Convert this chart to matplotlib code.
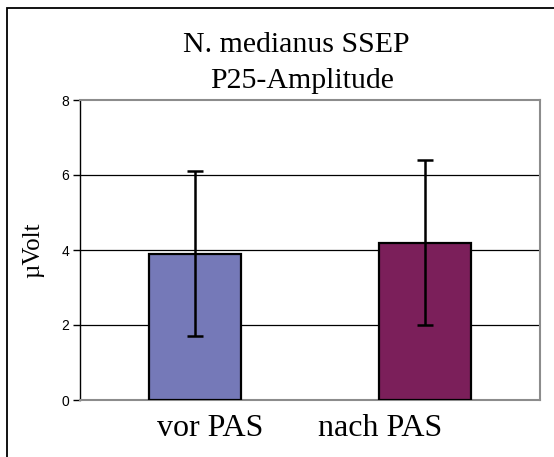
import matplotlib
matplotlib.use("Agg")
import matplotlib.pyplot as plt
from matplotlib.patches import Rectangle
from matplotlib.transforms import ScaledTranslation

categories = ["vor PAS", "nach PAS"]
means = [3.9, 4.2]
errors = [2.2, 2.2]
colors = ["#7579B8", "#7B1F5A"]
yticks = [0, 2, 4, 6, 8]
title_lines = ["N. medianus SSEP", "P25-Amplitude"]
ylabel = "µVolt"

W, H = 554, 457
fig = plt.figure(figsize=(W / 100, H / 100), dpi=100)
fig.patch.set_facecolor("white")

# outer frame (only left and top edges visible)
fig.patches.append(Rectangle((7 / W, -0.05), 1.2, (H - 8) / H + 0.05,
                             transform=fig.transFigure, fill=False,
                             edgecolor="black", linewidth=1.3))

ax = fig.add_axes([80 / W, (H - 400) / H, (540 - 80) / W, 300 / H])
x = list(range(len(categories)))
ax.bar(x, means, width=0.4, color=colors, edgecolor="black", linewidth=1.6, zorder=3)
ax.errorbar(x, means, yerr=errors, fmt="none", ecolor="black", elinewidth=1.8,
            capsize=5.5, capthick=1.8, zorder=4)
ax.set_xlim(-0.5, 1.5)
ax.set_ylim(0, 8)
ax.set_yticks(yticks)
ax.set_yticklabels([str(v) for v in yticks], family="Liberation Sans", fontsize=10)
for v in yticks[1:-1]:
    ax.axhline(v, color="black", linewidth=0.9, zorder=1)
ax.set_xticks(x)
ax.set_xticklabels(categories, family="Liberation Serif", fontsize=23)
ax.tick_params(axis="x", length=0, pad=10)
ax.tick_params(axis="y", length=5, width=1, direction="out", pad=3)
# Excel-style label placement (shifted towards the centre)
shifts = [15, -45]
for lbl, dx in zip(ax.get_xticklabels(), shifts):
    lbl.set_transform(lbl.get_transform() + ScaledTranslation(dx / 100, 0, fig.dpi_scale_trans))
for s in ["top", "right", "bottom"]:
    ax.spines[s].set_color("#8c8c8c")
    ax.spines[s].set_linewidth(1.5)
ax.spines["left"].set_color("black")
ax.spines["left"].set_linewidth(1.0)
ax.set_ylabel(ylabel, family="Liberation Serif", fontsize=18, labelpad=12)

fig.text(296 / W, 1 - 52 / H, title_lines[0], ha="center", va="baseline",
         family="Liberation Serif", fontsize=21.5)
fig.text(302 / W, 1 - 88 / H, title_lines[1], ha="center", va="baseline",
         family="Liberation Serif", fontsize=21.5)

fig.savefig("out.png", dpi=100)
